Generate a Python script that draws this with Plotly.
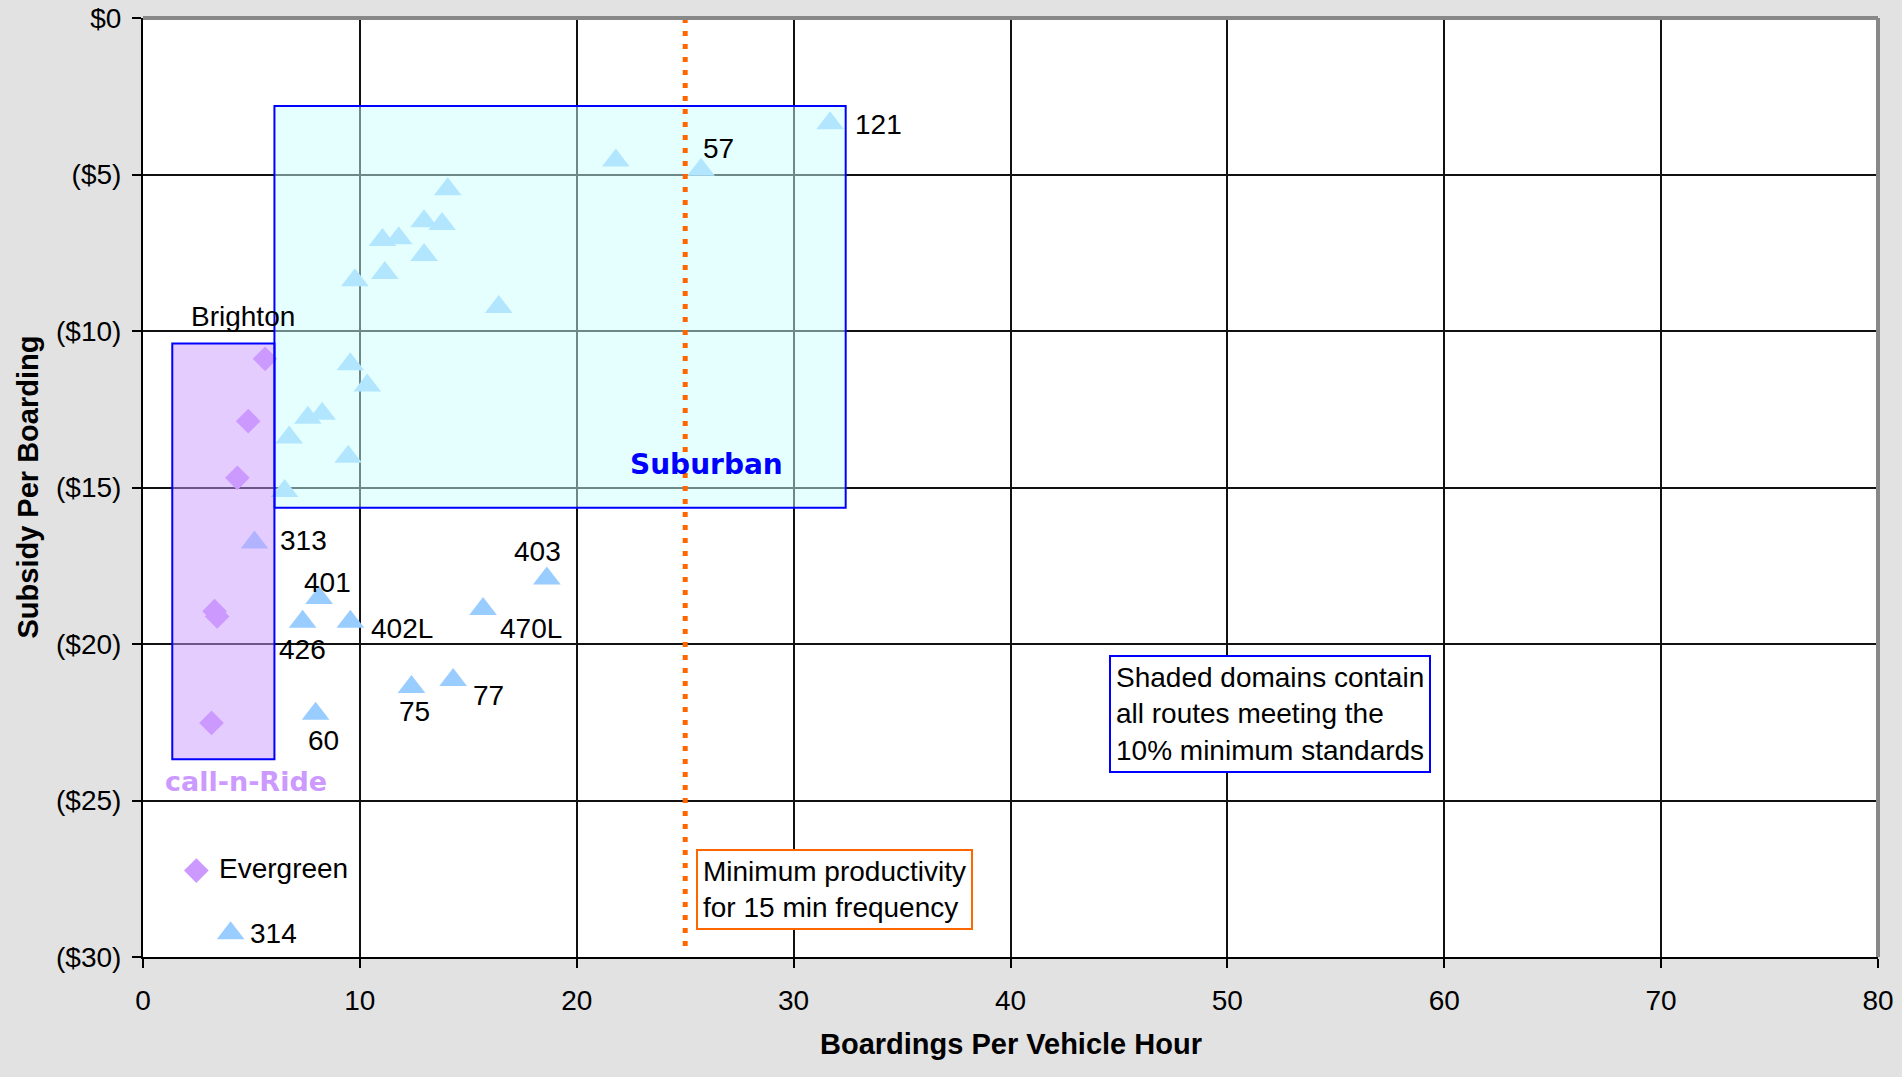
import plotly.graph_objects as go

# ---------------- data ----------------
TRI_X = [31.68, 25.73, 21.8, 14.05, 12.96, 13.79, 11.04, 11.79, 12.96, 11.15, 9.77, 16.4,
         9.56, 10.34, 7.6, 8.26, 6.74, 9.46, 6.53, 5.14, 8.12, 7.36, 9.56, 15.68, 18.62,
         12.38, 14.3, 7.96, 4.04]
TRI_Y = [-3.36, -4.85, -4.55, -5.47, -6.49, -6.58, -7.09, -7.04, -7.57, -8.15, -8.38, -9.23,
         -11.06, -11.74, -12.77, -12.64, -13.4, -14.02, -15.11, -16.76, -18.53, -19.29, -19.29,
         -18.88, -17.91, -21.37, -21.15, -22.23, -29.24]
TRI_LABELS = ["121", "57", "", "", "", "", "", "", "", "", "", "",
              "", "", "", "", "", "", "", "313", "401", "426", "402L", "470L", "403",
              "75", "77", "60", "314"]

DIA_X = [5.63, 4.85, 4.35, 3.30, 3.42, 3.16, 2.46]
DIA_Y = [-10.89, -12.88, -14.69, -18.95, -19.12, -22.52, -27.24]
DIA_LABELS = ["Brighton", "", "", "", "", "", "Evergreen"]

SUBURBAN_X = [6.06, 32.4]
SUBURBAN_Y = [-2.81, -15.65]
CALLNRIDE_X = [1.35, 6.06]
CALLNRIDE_Y = [-10.4, -23.68]
MIN_PRODUCTIVITY = 25

X_TICKS = [0, 10, 20, 30, 40, 50, 60, 70, 80]
Y_TICKS = [0, -5, -10, -15, -20, -25, -30]
Y_TICK_TEXT = ["$0", "($5)", "($10)", "($15)", "($20)", "($25)", "($30)"]

# ---------------- styles ----------------
FONT = "Liberation Sans, Arial, sans-serif"
HEAVY = "DejaVu Sans, Verdana, sans-serif"
FS = 28
TRI_COLOR = "#99ccff"
DIA_COLOR = "#cc99ff"

# label placement: (xshift px, shift down px, xanchor)
LABEL_PLACE = {
    "121": (23, 1, "left"), "57": (0, -21, "left"), "313": (24, -2, "left"),
    "401": (8, -15, "center"), "426": (0, 28, "center"), "402L": (19, 7, "left"),
    "470L": (15, 20, "left"), "403": (-9, -27, "center"), "75": (3, 25, "center"),
    "77": (18, 15, "left"), "60": (8, 27, "center"), "314": (17, 0, "left"),
    "Brighton": (-22, -42, "center"), "Evergreen": (21, -2, "left"),
}

fig = go.Figure()
fig.add_trace(go.Scatter(x=TRI_X, y=TRI_Y, mode="markers", name="Routes",
                         marker=dict(symbol="triangle-up", size=24, color=TRI_COLOR,
                                     line=dict(width=0)), cliponaxis=False))
fig.add_trace(go.Scatter(x=DIA_X, y=DIA_Y, mode="markers", name="call-n-Ride",
                         marker=dict(symbol="diamond", size=19, color=DIA_COLOR,
                                     line=dict(width=0)), cliponaxis=False))

# shaded domains
fig.add_shape(type="rect", xref="x", yref="y", x0=SUBURBAN_X[0], x1=SUBURBAN_X[1],
              y0=SUBURBAN_Y[0], y1=SUBURBAN_Y[1], layer="above",
              fillcolor="rgba(204,255,255,0.5)", line=dict(color="#0000ff", width=2))
fig.add_shape(type="rect", xref="x", yref="y", x0=CALLNRIDE_X[0], x1=CALLNRIDE_X[1],
              y0=CALLNRIDE_Y[0], y1=CALLNRIDE_Y[1], layer="above",
              fillcolor="rgba(204,153,255,0.5)", line=dict(color="#0000ff", width=2))
# min productivity line
fig.add_shape(type="line", xref="x", yref="y", x0=MIN_PRODUCTIVITY, x1=MIN_PRODUCTIVITY,
              y0=Y_TICKS[0], y1=Y_TICKS[-1] + 0.3, layer="above",
              line=dict(color="#ff6600", width=5, dash="5px,8px"))
# plot frame (top / right gray)
fig.add_shape(type="line", xref="paper", yref="paper", x0=0, x1=1, y0=1, y1=1,
              layer="above", line=dict(color="#888888", width=4))
fig.add_shape(type="line", xref="paper", yref="paper", x0=1, x1=1, y0=0, y1=1,
              layer="above", line=dict(color="#888888", width=4))

# data labels
for xs, ys, labs in ((TRI_X, TRI_Y, TRI_LABELS), (DIA_X, DIA_Y, DIA_LABELS)):
    for x, y, lab in zip(xs, ys, labs):
        if not lab:
            continue
        dx, dy, anc = LABEL_PLACE[lab]
        fig.add_annotation(x=x, y=y, xref="x", yref="y", text=lab, showarrow=False,
                           xanchor=anc, yanchor="middle", xshift=dx, yshift=-dy,
                           font=dict(family=FONT, size=FS, color="black"))

# domain names
fig.add_annotation(x=26.0, y=-14.26, xref="x", yref="y", text="<b>Suburban</b>",
                   showarrow=False, font=dict(family=HEAVY, size=28, color="#0000ff"))
fig.add_annotation(x=4.74, y=-24.4, xref="x", yref="y", text="<b>call-n-Ride</b>",
                   showarrow=False, font=dict(family=HEAVY, size=27, color=DIA_COLOR))

# text boxes
fig.add_annotation(x=25.5, y=-26.54, xref="x", yref="y", xanchor="left", yanchor="top",
                   text="Minimum productivity<br>for 15 min frequency", align="left",
                   showarrow=False, bgcolor="white", bordercolor="#ff6600", borderwidth=2,
                   borderpad=5, font=dict(family=FONT, size=FS, color="black"))
fig.add_annotation(x=44.52, y=-20.35, xref="x", yref="y", xanchor="left", yanchor="top",
                   text="Shaded domains contain<br>all routes meeting the<br>10% minimum standards",
                   align="left", showarrow=False, bgcolor="white", bordercolor="#0000ff",
                   borderwidth=2, borderpad=5, font=dict(family=FONT, size=FS, color="black"))

# axis titles
fig.add_annotation(x=0.5, y=0, xref="paper", yref="paper", yshift=-87, yanchor="middle",
                   text="<b>Boardings Per Vehicle Hour</b>", showarrow=False,
                   font=dict(family=FONT, size=29, color="black"))
fig.add_annotation(x=0, y=0.5, xref="paper", yref="paper", xshift=-116, xanchor="center",
                   text="<b>Subsidy Per Boarding</b>", textangle=-90, showarrow=False,
                   font=dict(family=FONT, size=29, color="black"))

axis_common = dict(showgrid=True, gridcolor="#111111", gridwidth=2, zeroline=False,
                   showline=True, linecolor="black", linewidth=2, ticks="outside",
                   ticklen=9, tickwidth=2, tickcolor="black", automargin=False,
                   tickfont=dict(family=FONT, size=FS, color="black"))
fig.update_xaxes(range=[X_TICKS[0], X_TICKS[-1]], tickvals=X_TICKS,
                 ticktext=[str(v) for v in X_TICKS], ticklabelstandoff=8, **axis_common)
fig.update_yaxes(range=[Y_TICKS[-1], Y_TICKS[0]], tickvals=Y_TICKS, ticktext=Y_TICK_TEXT,
                 ticklabelstandoff=5, **axis_common)

fig.update_layout(width=1902, height=1077, margin=dict(l=143, r=24, t=18, b=120),
                  paper_bgcolor="#e2e2e2", plot_bgcolor="white", showlegend=False,
                  font=dict(family=FONT, size=FS, color="black"))

fig.write_html("out.html", config={"displayModeBar": False},
               post_script="document.body.style.margin='0';document.body.style.overflow='hidden';")
